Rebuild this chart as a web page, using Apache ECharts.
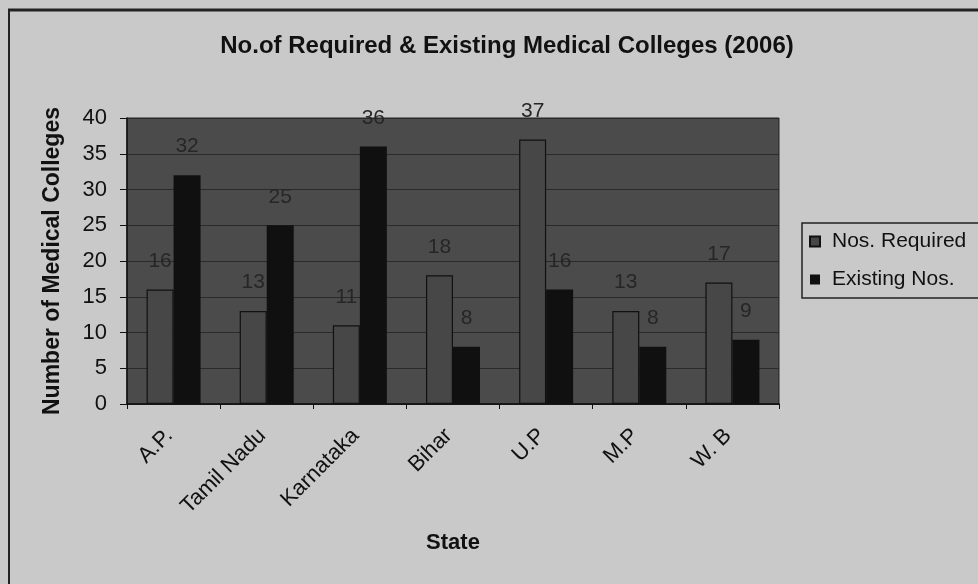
<!DOCTYPE html>
<html><head><meta charset="utf-8">
<script src="https://cdn.jsdelivr.net/npm/echarts@6/dist/echarts.min.js"></script>
<style>html,body{margin:0;padding:0;background:#c9c9c9;}#c{width:978px;height:584px;}</style>
</head><body><div id="c"></div>
<script>
const categories = ['A.P.', 'Tamil Nadu', 'Karnataka', 'Bihar', 'U.P', 'M.P', 'W. B'];
const required = [16, 13, 11, 18, 37, 13, 17];
const existing = [32, 25, 36, 8, 16, 8, 9];
const yTicks = [0, 5, 10, 15, 20, 25, 30, 35, 40];

const chart = echarts.init(document.getElementById('c'));
const F = 'Liberation Sans, Arial, sans-serif';
chart.setOption({
  backgroundColor: '#c9c9c9',
  animation: false,
  title: {
    text: 'No.of Required & Existing Medical Colleges (2006)',
    left: 502, top: 29, textAlign: 'center',
    textStyle: {fontFamily: F, fontSize: 24, fontWeight: 'bold', color: '#111'}
  },
  legend: {
    orient: 'vertical', left: 809, top: 231, itemGap: 17, padding: 0,
    itemWidth: 10, itemHeight: 10, icon: 'rect',
    textStyle: {fontFamily: F, fontSize: 21, color: '#111', padding: [0, 0, 0, 7]},
    data: ['Nos. Required', 'Existing Nos.']
  },
  graphic: [
    {type: 'line', shape: {x1: 8, y1: 10, x2: 978, y2: 10}, style: {stroke: '#222', lineWidth: 3}},
    {type: 'line', shape: {x1: 9, y1: 10, x2: 9, y2: 584}, style: {stroke: '#222', lineWidth: 2}},
    {type: 'rect', shape: {x: 802, y: 223, width: 180, height: 75}, style: {fill: 'none', stroke: '#222', lineWidth: 1.5}}
  ],
  grid: {left: 127, right: 199, top: 118, bottom: 180, show: true, backgroundColor: '#4b4b4b', borderColor: '#222', borderWidth: 1},
  xAxis: {
    type: 'category', data: categories,
    name: 'State', nameLocation: 'middle', nameGap: 128,
    nameTextStyle: {fontFamily: F, fontSize: 22, fontWeight: 'bold', color: '#111'},
    axisLine: {lineStyle: {color: '#111', width: 1.5}},
    axisTick: {show: true, lineStyle: {color: '#111'}, length: 5},
    axisLabel: {rotate: 45, margin: 24, fontFamily: F, fontSize: 22, color: '#111', padding: [0, 6, 0, 0]}
  },
  yAxis: {
    type: 'value', min: 0, max: 40, interval: 5,
    name: 'Number of Medical Colleges', nameLocation: 'middle', nameGap: 63,
    nameTextStyle: {fontFamily: F, fontSize: 23, fontWeight: 'bold', color: '#111'},
    axisLine: {show: true, lineStyle: {color: '#111', width: 1.5}},
    axisTick: {show: true, length: 7, lineStyle: {color: '#111'}},
    axisLabel: {fontFamily: F, fontSize: 22, color: '#111', margin: 20,
      formatter: v => yTicks.includes(v) ? String(v) : ''},
    splitLine: {lineStyle: {color: '#2a2a2a', width: 1}}
  },
  series: [
    {name: 'Nos. Required', type: 'bar', data: required, barWidth: 27, barGap: '0%',
     itemStyle: {color: '#474747', borderColor: '#111', borderWidth: 1.2},
     label: {show: true, position: 'top', distance: 18, fontFamily: F, fontSize: 21, color: '#262626'}},
    {name: 'Existing Nos.', type: 'bar', data: existing, barWidth: 27,
     itemStyle: {color: '#101010'},
     label: {show: true, position: 'top', distance: 18, fontFamily: F, fontSize: 21, color: '#262626'}}
  ]
});
</script></body></html>
